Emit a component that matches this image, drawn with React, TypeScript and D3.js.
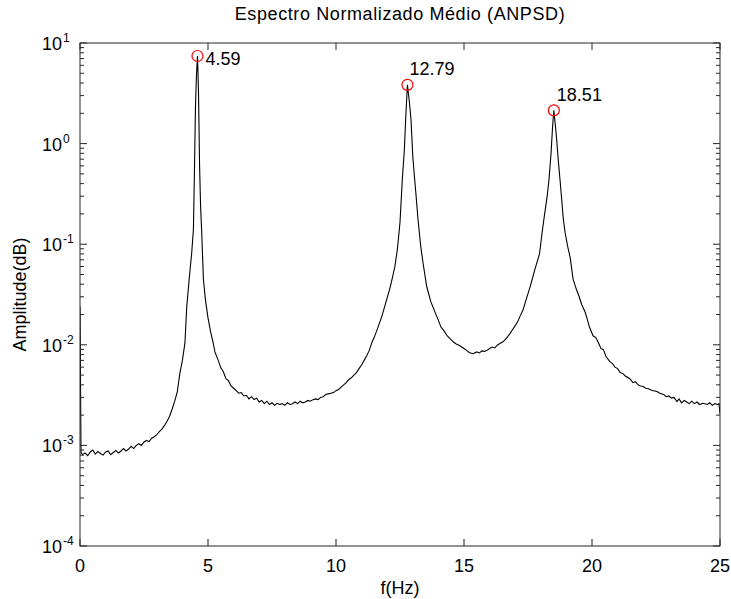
import React from 'react';
import * as d3 from 'd3';

// ---- data ----
const freq = [
  0, 0.04, 0.1, 0.2, 0.3, 0.4, 0.5, 0.6, 0.7, 0.8, 0.9, 1.0, 1.1, 1.2, 1.3, 1.4, 1.5, 1.6, 1.7, 1.8, 1.9,
  2.0, 2.1, 2.2, 2.3, 2.4, 2.5, 2.6, 2.7, 2.8, 2.9, 3.0, 3.1, 3.2, 3.3, 3.4, 3.5, 3.6, 3.7, 3.8, 3.9,
  4.0, 4.1, 4.17, 4.24, 4.3, 4.36, 4.43, 4.47, 4.51, 4.55, 4.59, 4.63, 4.67, 4.71, 4.75, 4.82, 4.9,
  5.0, 5.1, 5.2, 5.27, 5.4, 5.5, 5.6, 5.7, 5.8, 5.9, 6.0, 6.1, 6.2, 6.3, 6.4, 6.5, 6.6, 6.7, 6.8, 6.9,
  7.0, 7.1, 7.2, 7.3, 7.4, 7.5, 7.6, 7.7, 7.8, 7.9, 8.0, 8.1, 8.2, 8.3, 8.4, 8.5, 8.6, 8.7, 8.8, 8.9,
  9.0, 9.1, 9.2, 9.3, 9.4, 9.5, 9.6, 9.7, 9.8, 9.9, 10.0, 10.1, 10.2, 10.3, 10.4, 10.5, 10.6, 10.7, 10.8, 10.9,
  11.0, 11.1, 11.2, 11.3, 11.4, 11.5, 11.6, 11.7, 11.8, 11.9, 12.0, 12.1, 12.2, 12.3, 12.4, 12.5,
  12.59, 12.67, 12.72, 12.79, 12.86, 12.93, 13.0, 13.07, 13.13, 13.2, 13.31, 13.4, 13.54, 13.7, 13.87,
  14.0, 14.1, 14.2, 14.34, 14.5, 14.6, 14.7, 14.84, 15.0, 15.1, 15.2, 15.35, 15.5, 15.6, 15.7, 15.8, 15.9,
  16.0, 16.1, 16.2, 16.3, 16.4, 16.52, 16.6, 16.7, 16.8, 16.9, 17.0, 17.1, 17.2, 17.3, 17.46, 17.6, 17.75,
  17.85, 17.95, 18.05, 18.15, 18.25, 18.32, 18.4, 18.46, 18.51, 18.56, 18.62, 18.68, 18.75, 18.82, 18.88,
  18.95, 19.05, 19.15, 19.26, 19.4, 19.5, 19.6, 19.73, 19.8, 19.9, 20.04, 20.15, 20.25, 20.35, 20.45, 20.55,
  20.7, 20.8, 20.9, 21.0, 21.1, 21.2, 21.3, 21.48, 21.6, 21.7, 21.8, 21.9, 22.0, 22.1, 22.2, 22.3, 22.4,
  22.54, 22.65, 22.8, 22.9, 23.0, 23.1, 23.2, 23.32, 23.4, 23.5, 23.6, 23.7, 23.8, 23.9, 24.0, 24.1, 24.2,
  24.34, 24.5, 24.6, 24.7, 24.8, 24.9, 24.96, 25.0,
];

const amp = [
  0.024, 8.5e-4, 8.1e-4, 8.4e-4, 7.9e-4, 8.6e-4, 9.0e-4, 8.2e-4, 8.7e-4, 8.3e-4, 8.0e-4, 8.6e-4, 8.8e-4, 8.1e-4, 8.5e-4, 8.9e-4, 8.4e-4, 8.8e-4, 9.3e-4, 8.8e-4, 9.2e-4,
  9.8e-4, 9.3e-4, 1.0e-3, 1.04e-3, 1.0e-3, 1.08e-3, 1.12e-3, 1.09e-3, 1.18e-3, 1.22e-3, 1.28e-3, 1.37e-3, 1.45e-3, 1.58e-3, 1.74e-3, 1.95e-3, 2.3e-3, 2.75e-3, 3.4e-3, 5.2e-3,
  7.0e-3, 1.05e-2, 2.4e-2, 3.8e-2, 5.6e-2, 8.0e-2, 0.14, 0.52, 2.27, 4.8, 7.43, 3.2, 0.62, 0.24, 0.14, 4.5e-2, 2.8e-2,
  1.85e-2, 1.35e-2, 1.05e-2, 8.5e-3, 7.0e-3, 5.9e-3, 5.4e-3, 4.6e-3, 4.4e-3, 3.9e-3, 3.7e-3, 3.5e-3, 3.3e-3, 3.35e-3, 3.1e-3, 3.15e-3, 2.9e-3, 3.05e-3, 2.85e-3, 2.95e-3,
  2.7e-3, 2.8e-3, 2.6e-3, 2.75e-3, 2.55e-3, 2.65e-3, 2.5e-3, 2.62e-3, 2.55e-3, 2.6e-3, 2.5e-3, 2.65e-3, 2.55e-3, 2.6e-3, 2.7e-3, 2.6e-3, 2.75e-3, 2.65e-3, 2.7e-3, 2.8e-3,
  2.75e-3, 2.85e-3, 2.9e-3, 2.85e-3, 3.0e-3, 3.05e-3, 3.2e-3, 3.25e-3, 3.3e-3, 3.35e-3, 3.5e-3, 3.6e-3, 3.8e-3, 4.0e-3, 4.2e-3, 4.5e-3, 4.7e-3, 5.0e-3, 5.3e-3, 5.8e-3,
  6.3e-3, 7.0e-3, 7.8e-3, 8.8e-3, 1.05e-2, 1.2e-2, 1.4e-2, 1.65e-2, 1.95e-2, 2.4e-2, 2.95e-2, 3.6e-2, 4.6e-2, 6.0e-2, 9.0e-2, 0.165,
  0.44, 0.87, 1.73, 3.84, 2.7, 1.73, 0.74, 0.45, 0.3, 0.18, 0.095, 6.5e-2, 3.84e-2, 2.7e-2, 2.1e-2,
  1.75e-2, 1.5e-2, 1.4e-2, 1.23e-2, 1.12e-2, 1.06e-2, 1.02e-2, 9.8e-3, 9.2e-3, 8.8e-3, 8.4e-3, 8.15e-3, 8.5e-3, 8.3e-3, 8.7e-3, 8.6e-3, 8.8e-3,
  9.2e-3, 9.5e-3, 9.3e-3, 9.9e-3, 1.03e-2, 1.07e-2, 1.12e-2, 1.2e-2, 1.3e-2, 1.42e-2, 1.55e-2, 1.7e-2, 1.95e-2, 2.2e-2, 3.0e-2, 3.9e-2, 5.4e-2,
  6.6e-2, 8.0e-2, 0.13, 0.2, 0.3, 0.44, 0.8, 1.47, 2.14, 1.6, 1.1, 0.7, 0.44, 0.27, 0.177,
  0.13, 9.5e-2, 7.3e-2, 4.5e-2, 3.5e-2, 3.0e-2, 2.5e-2, 2.12e-2, 1.85e-2, 1.5e-2, 1.23e-2, 1.18e-2, 1.05e-2, 9.2e-3, 8.9e-3, 7.6e-3,
  6.8e-3, 6.5e-3, 6.0e-3, 5.8e-3, 5.3e-3, 5.2e-3, 4.9e-3, 4.6e-3, 4.2e-3, 4.3e-3, 4.0e-3, 3.9e-3, 3.85e-3, 3.7e-3, 3.65e-3, 3.55e-3, 3.5e-3,
  3.43e-3, 3.3e-3, 3.2e-3, 3.05e-3, 3.1e-3, 2.95e-3, 3.0e-3, 2.73e-3, 2.9e-3, 2.65e-3, 2.8e-3, 2.7e-3, 2.6e-3, 2.75e-3, 2.6e-3, 2.7e-3, 2.55e-3,
  2.62e-3, 2.55e-3, 2.65e-3, 2.5e-3, 2.6e-3, 2.55e-3, 2.6e-3, 2.07e-3,
];

const peakFreqs = [4.59, 12.79, 18.51];
const peakAmps = [7.43, 3.84, 2.14];
const peakLabels = ['4.59', '12.79', '18.51'];

const xTickValues = [0, 5, 10, 15, 20, 25];
const yDecadeExponents = [-4, -3, -2, -1, 0, 1];

const titleText = 'Espectro Normalizado Médio (ANPSD)';
const xLabelText = 'f(Hz)';
const yLabelText = 'Amplitude(dB)';

// ---- layout / style ----
const W = 731;
const H = 599;
const M = { left: 80, right: 720, top: 43, bottom: 546 };
const labelOffsets = [
  [8, 9],
  [2, -10],
  [3, -9],
];
const FONT = '"Liberation Sans", Arial, Helvetica, sans-serif';

export default function App() {
  const x = d3.scaleLinear().domain([0, 25]).range([M.left, M.right]);
  const y = d3.scaleLog().domain([1e-4, 10]).range([M.bottom, M.top]);

  const data = freq.map((f, i) => [f, amp[i]] as [number, number]);
  const line = d3
    .line<[number, number]>()
    .x((d) => x(d[0]))
    .y((d) => y(d[1]));

  const yTicks = y.ticks();
  const isMajor = (v: number) => Math.abs(Math.log10(v) - Math.round(Math.log10(v))) < 1e-9;

  const axisColor = '#262626';

  return (
    <svg
      width={W}
      height={H}
      style={{ position: 'absolute', left: 0, top: 0, background: '#fff' }}
      fontFamily={FONT}
    >
      <rect x={0} y={0} width={W} height={H} fill="#fff" />
      <defs>
        <clipPath id="plotclip">
          <rect x={M.left} y={M.top} width={M.right - M.left} height={M.bottom - M.top} />
        </clipPath>
      </defs>

      {/* curve */}
      <path
        d={line(data) || ''}
        fill="none"
        stroke="#000"
        strokeWidth={1.1}
        clipPath="url(#plotclip)"
      />

      {/* peaks */}
      {peakFreqs.map((f, i) => (
        <g key={i}>
          <circle cx={x(f)} cy={y(peakAmps[i])} r={5.5} fill="none" stroke="#ff0000" strokeWidth={1.2} />
          <text
            x={x(f) + labelOffsets[i][0]}
            y={y(peakAmps[i]) + labelOffsets[i][1]}
            fontSize={18}
            fill="#000"
          >
            {peakLabels[i]}
          </text>
        </g>
      ))}

      {/* box */}
      <rect
        x={M.left}
        y={M.top}
        width={M.right - M.left}
        height={M.bottom - M.top}
        fill="none"
        stroke={axisColor}
        strokeWidth={1}
      />

      {/* x ticks */}
      {xTickValues.map((t) => (
        <g key={'xt' + t}>
          <line x1={x(t)} x2={x(t)} y1={M.bottom} y2={M.bottom - 7} stroke={axisColor} />
          <line x1={x(t)} x2={x(t)} y1={M.top} y2={M.top + 7} stroke={axisColor} />
          <text x={x(t)} y={M.bottom + 26} fontSize={18} textAnchor="middle" fill="#000">
            {t}
          </text>
        </g>
      ))}

      {/* y ticks */}
      {yTicks.map((t, i) => {
        const len = isMajor(t) ? 7 : 4;
        return (
          <g key={'yt' + i}>
            <line x1={M.left} x2={M.left + len} y1={y(t)} y2={y(t)} stroke={axisColor} />
            <line x1={M.right} x2={M.right - len} y1={y(t)} y2={y(t)} stroke={axisColor} />
          </g>
        );
      })}
      {yDecadeExponents.map((e) => (
        <g key={'yl' + e}>
          <text x={62} y={y(Math.pow(10, e)) + 7} fontSize={18} textAnchor="end" fill="#000">
            10
          </text>
          <text x={63} y={y(Math.pow(10, e)) - 1} fontSize={12} fill="#000">
            {e}
          </text>
        </g>
      ))}

      {/* title & labels */}
      <text x={(M.left + M.right) / 2} y={20} fontSize={18} textAnchor="middle" fill="#000" letterSpacing={0.6}>
        {titleText}
      </text>
      <text x={(M.left + M.right) / 2} y={594} fontSize={18} textAnchor="middle" fill="#000">
        {xLabelText}
      </text>
      <text
        transform={`translate(26, ${(M.top + M.bottom) / 2}) rotate(-90)`}
        fontSize={18}
        textAnchor="middle"
        fill="#000"
      >
        {yLabelText}
      </text>
    </svg>
  );
}
